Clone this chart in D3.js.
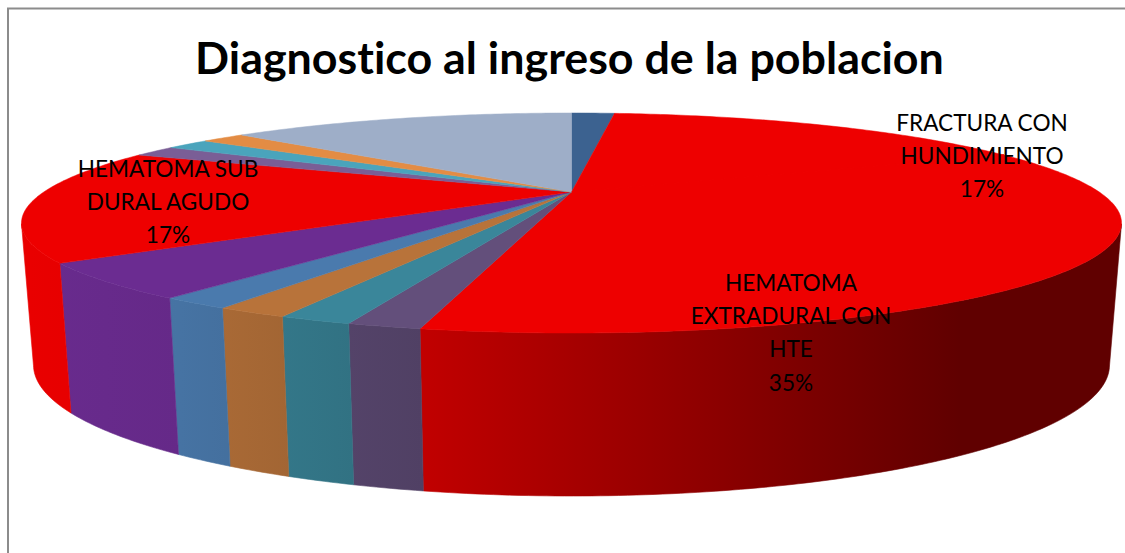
<!DOCTYPE html>
<html><head><meta charset="utf-8">
<script src="https://cdn.jsdelivr.net/npm/d3@7"></script>
<style>html,body{margin:0;padding:0;background:#fff}svg{display:block}text{font-variant-ligatures:none}</style>
</head><body><div id="chart"></div>
<script>
const title = "Diagnostico al ingreso de la poblacion";
const categories = [null, "FRACTURA CON|HUNDIMIENTO", "HEMATOMA|EXTRADURAL CON|HTE", null, null, null, null, null, "HEMATOMA SUB|DURAL AGUDO", null, null, null, null];
const values = [1, 10, 21, 1, 1, 1, 1, 3, 10, 1, 1, 1, 8];
const colors = ["#3c6290", "#ee0000", "#ee0000", "#634f7b", "#3a869a", "#b8733a", "#4a7aad", "#6b2c91", "#ee0000", "#7a5e96", "#4aa4bc", "#e38c44", "#9eaec8"];

const W = 1125, H = 553;
const cx = 571.5, apexY = 192;
const farR = 79, nearR = 141;
const k = (nearR - farR) / (nearR + farR);
const b = farR * (1 + k);
const a = 550 * Math.sqrt(1 - k * k);
const topE = {cy: 223, rx: 550, ry: 110};
const botE = {cy: 365, rx: 538, ry: 131};

// perspective projection of a unit-circle point onto the top face
function project(theta, r = 1) {
  const X = r * Math.sin(theta), Y = -r * Math.cos(theta);
  const d = 1 - k * Y;
  return [cx + a * X / d, apexY + b * Y / d];
}
function lower([x, y]) {
  const c = (x - cx) / topE.rx, s = (y - topE.cy) / topE.ry;
  return [cx + botE.rx * c, botE.cy + botE.ry * s];
}
const isFront = p => p[1] >= topE.cy - 0.01;

const svg = d3.select("#chart").append("svg").attr("width", W).attr("height", H);
const defs = svg.append("defs");
svg.append("rect").attr("width", W).attr("height", H).attr("fill", "#fff");
svg.append("path").attr("d", `M8,${H}V8.5H${W}`).attr("fill", "none").attr("stroke", "#8c8c8c").attr("stroke-width", 2);

const shadeX = d3.scaleLinear().domain([0, W]).range([0, 1]);
const shadeStops = [[30, 0.98], [180, 0.94], [423, 0.81], [700, 0.6], [960, 0.405], [1125, 0.405]];

const arcs = d3.pie().sort(null).startAngle(0).endAngle(2 * Math.PI)(values);
const line = d3.line();

arcs.forEach((d, i) => {
  const n = Math.max(6, Math.ceil((d.endAngle - d.startAngle) * 80));
  const pts = d3.range(n + 1).map(j => project(d.startAngle + (d.endAngle - d.startAngle) * j / n));
  d.pts = pts;
  const front = pts.filter(isFront);
  if (front.length > 1) {
    const id = "g" + i;
    const g = defs.append("linearGradient").attr("id", id).attr("gradientUnits", "userSpaceOnUse")
      .attr("x1", 0).attr("x2", W).attr("y1", 0).attr("y2", 0);
    const base = d3.rgb(colors[i]);
    shadeStops.forEach(([x, f]) => g.append("stop").attr("offset", shadeX(x))
      .attr("stop-color", d3.rgb(base.r * f, base.g * f, base.b * f).formatHex()));
    const poly = front.concat(front.map(lower).reverse());
    svg.append("path").attr("d", line(poly) + "Z").attr("fill", `url(#${id})`)
      .attr("stroke", `url(#${id})`).attr("stroke-width", 0.6);
  }
});
arcs.forEach((d, i) => {
  svg.append("path").attr("d", line([[cx, apexY], ...d.pts]) + "Z").attr("fill", colors[i])
    .attr("stroke", colors[i]).attr("stroke-width", 0.5).attr("stroke-linejoin", "round");
});
// adjacent same-coloured wedges read as one area: cover the shared radius
arcs.forEach((d, i) => {
  const next = arcs[i + 1];
  if (next && colors[i] === colors[i + 1]) {
    svg.append("path").attr("d", line([[cx, apexY], d.pts[d.pts.length - 1]]))
      .attr("stroke", colors[i]).attr("stroke-width", 1.5).attr("fill", "none");
  }
});

svg.append("text").attr("x", 569.5).attr("y", 74).attr("text-anchor", "middle")
  .attr("font-family", "Lato, sans-serif").attr("font-weight", 700).attr("font-size", 44.8)
  .attr("fill", "#000").text(title);

const labelAnchors = {1: [982, 131], 2: [791, 291], 8: [168, 177]};
const pct = d3.format(".0%"), total = d3.sum(values);
categories.forEach((c, i) => {
  if (!c) return;
  const lines = c.split("|").concat(pct(values[i] / total));
  const t = svg.append("text").attr("text-anchor", "middle")
    .attr("font-family", "Lato, sans-serif").attr("font-size", 22.6).attr("fill", "#000");
  lines.forEach((s, j) => t.append("tspan").attr("x", labelAnchors[i][0])
    .attr("y", labelAnchors[i][1] + j * 33.2).text(s));
});
</script></body></html>
